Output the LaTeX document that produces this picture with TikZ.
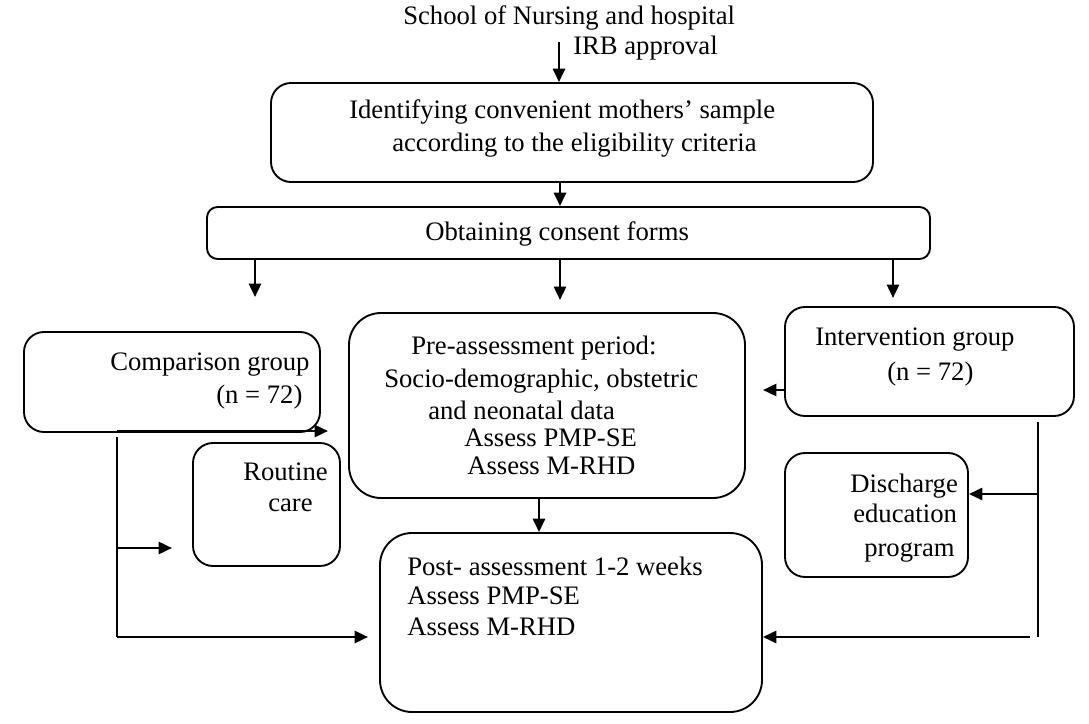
\documentclass[tikz,border=0pt]{standalone}
\usepackage{fontspec}
\setmainfont{Liberation Serif}
\usetikzlibrary{arrows.meta}
\begin{document}
\begin{tikzpicture}[x=0.75pt,y=-0.75pt,
  font=\fontsize{20}{24}\selectfont,
  box/.style={draw, line width=1.4pt, rounded corners=15pt, inner sep=0pt},
  lbl/.style={anchor=mid west, inner sep=0pt, yshift=-4pt},
  arr/.style={line width=1.9pt, -{Triangle[length=10pt,width=9pt]}},
  ln/.style={line width=1.9pt}]
\useasboundingbox (0,0) rectangle (1089,724);
% boxes
\node[box, minimum width=451.5pt, minimum height=74.25pt] (ident) at (572,132.5) {};
\node[box, rounded corners=8pt, minimum width=542.25pt, minimum height=39pt] (consent) at (568.5,233) {};
\node[box, minimum width=222pt, minimum height=75pt] (comp) at (172,382) {};
\node[box, rounded corners=24pt, minimum width=297pt, minimum height=138.75pt] (pre) at (547,405.5) {};
\node[box, minimum width=216.75pt, minimum height=81.75pt] (interv) at (929.5,361.5) {};
\node[box, minimum width=110.25pt, minimum height=92.25pt] (routine) at (266.5,504.5) {};
\node[box, rounded corners=24pt, minimum width=286.5pt, minimum height=134.25pt] (post) at (571,622.5) {};
\node[box, minimum width=137.25pt, minimum height=93pt] (disch) at (876.5,515) {};
% texts
\node[lbl] (tschool) at (403,16) {School of Nursing and hospital};
\node[lbl] (tirb) at (573,46) {IRB approval};
\node[lbl] (ti1) at (349,110) {Identifying convenient mothers' sample};
\node[lbl] (ti2) at (392,143) {according to the eligibility criteria};
\node[lbl] (tc) at (425,232) {Obtaining consent forms};
\node[lbl] (tcg1) at (110,362) {Comparison group};
\node[lbl] (tcg2) at (216,395) {(n = 72)};
\node[lbl] (tp1) at (411,346) {Pre-assessment period:};
\node[lbl] (tp2) at (384,379) {Socio-demographic, obstetric};
\node[lbl] (tp3) at (428,411) {and neonatal data};
\node[lbl] (tp4) at (464,438) {Assess PMP-SE};
\node[lbl] (tp5) at (467,466) {Assess M-RHD};
\node[lbl] (tig1) at (815,337) {Intervention group};
\node[lbl] (tig2) at (887,372) {(n = 72)};
\node[lbl] (tr1) at (243,472) {Routine};
\node[lbl] (tr2) at (268,503) {care};
\node[lbl] (tq1) at (407,567) {Post- assessment 1-2 weeks};
\node[lbl] (tq2) at (407,596) {Assess PMP-SE};
\node[lbl] (tq3) at (407,627) {Assess M-RHD};
\node[lbl] (td1) at (850,484) {Discharge};
\node[lbl] (td2) at (853,514) {education};
\node[lbl] (td3) at (864,548) {program};
% coordinates
\coordinate (a0) at (559,42);
\coordinate (a1) at (560,182);
\coordinate (bl) at (255,297);
\coordinate (bm) at (560,300);
\coordinate (br) at (893,298);
\coordinate (ie) at (763,390);
\coordinate (cs) at (117,431);
\coordinate (ce) at (328,431);
\coordinate (cv) at (117,637);
\coordinate (cr) at (172,548);
\coordinate (cp) at (368,637);
\coordinate (pm) at (539,498);
\coordinate (rt) at (1038,422);
\coordinate (rm) at (1038,494);
\coordinate (rb) at (1038,637);
% connectors
\draw[arr] (a0) -- (a0 |- ident.north);
\draw[arr] (a1) -- (a1 |- consent.north);
\draw[arr] (consent.south -| bl) -- (bl);
\draw[arr] (consent.south -| bm) -- (bm);
\draw[arr] (consent.south -| br) -- (br);
\draw[arr] (interv.west |- ie) -- (ie);
\draw[arr] (cs) -- (ce);
\draw[ln] (cs |- comp.south) ++(0,4) -- (cv);
\draw[arr] (cv) -- (cp);
\draw[arr] (cs |- cr) -- (cr);
\draw[arr] (pm) -- (pm |- post.north);
\draw[ln] (rt) -- (rb);
\draw[arr] (rm) -- (rm -| disch.east);
\draw[arr] ([xshift=-6pt]rb) -- (rb -| post.east);
\end{tikzpicture}
\end{document}
